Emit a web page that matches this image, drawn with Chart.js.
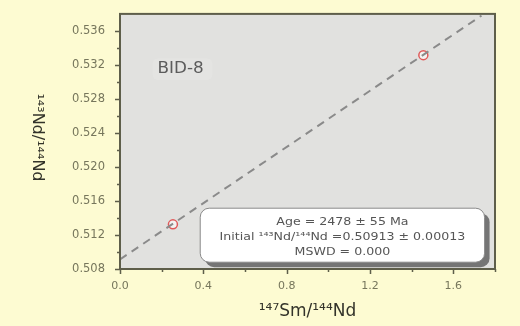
<!DOCTYPE html>
<html lang="en">
<head>
    <meta charset="UTF-8">
    <title>Sm-Nd isochron BID-8</title>
    <style>
        html, body { margin: 0; padding: 0; background: #fdfbd2; }
        #wrap { width: 520px; height: 326px; }
    </style>
</head>
<body>
    <div id="wrap">
        <canvas id="myChart"></canvas>
    </div>

    <script src="https://cdn.jsdelivr.net/npm/chart.js@4/dist/chart.umd.min.js"></script>
    <script>
    // samples
    var smNd = [0.254, 1.456];
    var ndNd = [0.51325, 0.53315];
    // isochron end points
    var lineX = [0.0, 1.735];
    var lineY = [0.50913, 0.5378];
    // axis ticks
    var xTicks = [0.0, 0.4, 0.8, 1.2, 1.6];
    var yTicks = [0.508, 0.512, 0.516, 0.520, 0.524, 0.528, 0.532, 0.536];
    var sampleName = 'BID-8';
    var resultLines = [
        'Age = 2478 \u00b1 55 Ma',
        'Initial \u00b9\u2074\u00b3Nd/\u00b9\u2074\u2074Nd =0.50913 \u00b1 0.00013',
        'MSWD = 0.000'
    ];

    var ctx = document.getElementById('myChart');
    var FONT = '"DejaVu Sans", "Liberation Sans", Arial, sans-serif';

    function roundRect(c, x, y, w, h, r) {
        c.beginPath();
        c.moveTo(x + r, y);
        c.arcTo(x + w, y, x + w, y + h, r);
        c.arcTo(x + w, y + h, x, y + h, r);
        c.arcTo(x, y + h, x, y, r);
        c.arcTo(x, y, x + w, y, r);
        c.closePath();
    }

    // text that looks a bit wider, like the scanned figure
    function wideText(c, t, x, y, sx) {
        c.save();
        c.translate(x, y);
        c.scale(sx, 1);
        c.fillText(t, 0, 0);
        c.restore();
    }

    var decor = {
        id: 'decor',
        beforeDraw: (chart) => {
            var c = chart.ctx, a = chart.chartArea;
            c.save();
            c.fillStyle = '#fdfbd2';
            c.fillRect(0, 0, chart.width, chart.height);
            c.fillStyle = '#e1e1df';
            c.fillRect(a.left, a.top, a.right - a.left, a.bottom - a.top);
            c.restore();
        },
        afterDatasetsDraw: (chart) => {
            var c = chart.ctx, a = chart.chartArea;
            var xs = chart.scales.x, ys = chart.scales.y;
            c.save();
            // frame
            c.strokeStyle = '#5e5e4a';
            c.lineWidth = 2;
            c.strokeRect(a.left, a.top, a.right - a.left, a.bottom - a.top);
            // ticks
            c.lineWidth = 1.5;
            c.beginPath();
            yTicks.forEach((v, i) => {
                var p = Math.round(ys.getPixelForValue(v)) + 0.5;
                c.moveTo(a.left - 5, p); c.lineTo(a.left, p);
                if (i < yTicks.length - 1) {
                    var m = Math.round(ys.getPixelForValue(v + 0.002)) + 0.5;
                    c.moveTo(a.left - 3, m); c.lineTo(a.left, m);
                }
            });
            xTicks.forEach((v) => {
                var p = Math.round(xs.getPixelForValue(v)) + 0.5;
                c.moveTo(p, a.bottom); c.lineTo(p, a.bottom + 5);
                var m = Math.round(xs.getPixelForValue(v + 0.2)) + 0.5;
                c.moveTo(m, a.bottom); c.lineTo(m, a.bottom + 3);
            });
            c.stroke();

            // sample label
            var lx = xs.getPixelForValue(0.18), ly = ys.getPixelForValue(0.5315);
            c.fillStyle = 'rgba(255,255,255,0.1)';
            roundRect(c, lx - 5, ly - 11, 60, 22, 6);
            c.fill();
            c.font = '15px ' + FONT;
            c.fillStyle = '#5c5c5c';
            c.textAlign = 'left';
            c.textBaseline = 'middle';
            wideText(c, sampleName, lx, ly, 1.12);

            // result box
            var bx = xs.getPixelForValue(0.385), by = ys.getPixelForValue(0.51515);
            var bw = xs.getPixelForValue(1.75) - bx, bh = ys.getPixelForValue(0.5088) - by;
            c.fillStyle = 'rgba(105,105,105,0.9)';
            roundRect(c, bx + 5, by + 5, bw, bh, 9);
            c.fill();
            c.fillStyle = '#ffffff';
            c.strokeStyle = '#8a8a8a';
            c.lineWidth = 1;
            roundRect(c, bx, by, bw, bh, 9);
            c.fill();
            c.stroke();
            c.font = '10.5px ' + FONT;
            c.fillStyle = '#555555';
            c.textAlign = 'center';
            resultLines.forEach((t, i) => {
                wideText(c, t, bx + bw / 2, by + 14 + i * 15, 1.2);
            });

            // y title, reading top to bottom
            c.translate(37, (a.top + a.bottom) / 2 - 4);
            c.rotate(Math.PI / 2);
            c.font = '16px ' + FONT;
            c.fillStyle = '#33332a';
            c.fillText('\u00b9\u2074\u00b3Nd/\u00b9\u2074\u2074Nd', 0, 0);
            c.restore();
        }
    };

    var myChart = new Chart(ctx, {
        type: 'scatter',
        data: {
            datasets: [
                {
                    label: 'isochron',
                    type: 'line',
                    data: lineX.map((x, i) => ({ x: x, y: lineY[i] })),
                    borderColor: '#8a8a8a',
                    borderWidth: 2,
                    borderDash: [8, 6],
                    pointRadius: 0,
                    fill: false
                },
                {
                    label: 'samples',
                    data: smNd.map((x, i) => ({ x: x, y: ndNd[i] })),
                    pointRadius: 4.5,
                    pointBorderWidth: 1.5,
                    pointBorderColor: '#e05a5a',
                    pointBackgroundColor: 'rgba(255,255,255,0.6)'
                }
            ]
        },
        options: {
            responsive: true,
            maintainAspectRatio: false,
            animation: false,
            layout: { padding: { top: 8, right: 25, left: 0, bottom: 0 } },
            plugins: {
                legend: { display: false },
                tooltip: { enabled: false }
            },
            scales: {
                x: {
                    type: 'linear',
                    min: 0,
                    max: 1.8,
                    afterBuildTicks: (s) => { s.ticks = xTicks.map(v => ({ value: v })); },
                    afterFit: (s) => { s.height = 57; },
                    border: { display: false },
                    grid: { display: false },
                    ticks: {
                        padding: 3,
                        color: '#76765c',
                        font: { size: 11, family: FONT },
                        callback: (v) => Number(v).toFixed(1)
                    },
                    title: {
                        display: true,
                        text: '\u00b9\u2074\u2077Sm/\u00b9\u2074\u2074Nd',
                        color: '#33332a',
                        font: { size: 17, family: FONT },
                        padding: { top: 4 }
                    }
                },
                y: {
                    type: 'linear',
                    min: 0.508,
                    max: 0.538,
                    afterBuildTicks: (s) => { s.ticks = yTicks.map(v => ({ value: v })); },
                    afterFit: (s) => { s.width = 120; },
                    border: { display: false },
                    grid: { display: false },
                    ticks: {
                        padding: 7,
                        color: '#76765c',
                        font: { size: 11.5, family: FONT },
                        callback: (v) => Number(v).toFixed(3)
                    }
                }
            }
        },
        plugins: [decor]
    });
    </script>
</body>
</html>
